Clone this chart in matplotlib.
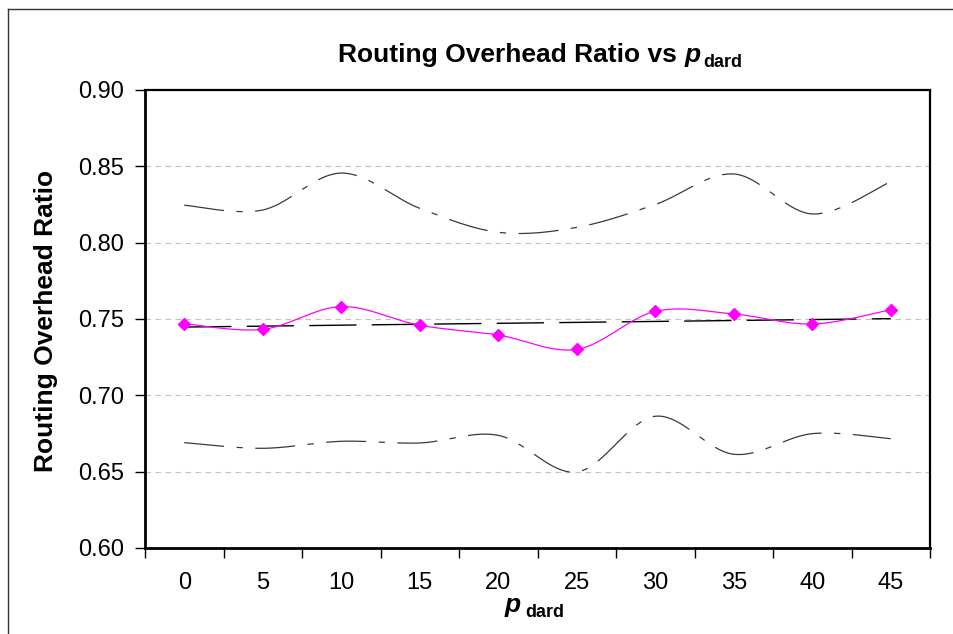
import numpy as np
import matplotlib
matplotlib.use("Agg")
import matplotlib.pyplot as plt
from matplotlib.lines import Line2D
from matplotlib.ticker import FixedLocator, FormatStrFormatter, NullFormatter


categories = ["0", "5", "10", "15", "20", "25", "30", "35", "40", "45"]
ratio_mean = [0.7469, 0.7432, 0.7581, 0.7459, 0.7395, 0.7301, 0.7550, 0.7533, 0.7467, 0.7561]
ratio_upper = [0.8245, 0.8214, 0.8456, 0.8225, 0.8068, 0.8100, 0.8250, 0.8450, 0.8188, 0.8400]
ratio_lower = [0.6690, 0.6653, 0.6699, 0.6688, 0.6738, 0.6498, 0.6863, 0.6614, 0.6749, 0.6716]
y_ticks = [0.60, 0.65, 0.70, 0.75, 0.80, 0.85, 0.90]

W, H = 954, 634
FONT = "Liberation Sans"
plt.rcParams["font.family"] = [FONT, "DejaVu Sans"]


def smooth(values, n=40):
    # Excel-style smoothed line: cubic Bezier through the points (Catmull-Rom)
    pts = np.column_stack([np.arange(len(values), dtype=float), np.asarray(values, float)])
    padded = np.vstack([pts[0], pts, pts[-1]])
    t = np.linspace(0, 1, n)[:, None]
    out = []
    for i in range(len(pts) - 1):
        p0, p1, p2, p3 = padded[i], padded[i + 1], padded[i + 2], padded[i + 3]
        c1 = p1 + (p2 - p0) / 6
        c2 = p2 - (p3 - p1) / 6
        seg = (1 - t) ** 3 * p1 + 3 * (1 - t) ** 2 * t * c1 + 3 * (1 - t) * t ** 2 * c2 + t ** 3 * p2
        out.append(seg if i == 0 else seg[1:])
    return np.vstack(out)


fig = plt.figure(figsize=(W / 100, H / 100), dpi=100)
ax = fig.add_axes([145 / W, 1 - 548 / H, (930 - 145) / W, (548 - 90) / H])

x = np.arange(len(categories))

up = smooth(ratio_upper)
ax.plot(up[:, 0], up[:, 1], color="#3a3a3a", lw=0.9, linestyle=(0, (32, 10, 5, 10)))
lo = smooth(ratio_lower)
ax.plot(lo[:, 0], lo[:, 1], color="#3a3a3a", lw=0.9, linestyle=(0, (32, 10, 5, 10)))

# linear trend of the mean series
coef = np.polyfit(x, ratio_mean, 1)
ax.plot(x, np.polyval(coef, x), color="black", lw=1.0, linestyle=(0, (34, 11)))

mid = smooth(ratio_mean)
ax.plot(mid[:, 0], mid[:, 1], color="#FF00FF", lw=0.9)
ax.plot(x, ratio_mean, linestyle="none", marker="D", markersize=6.5, color="#FF00FF")

ax.set_xlim(-0.5, len(categories) - 0.5)
ax.set_ylim(0.60, 0.90)
ax.xaxis.set_major_locator(FixedLocator(np.arange(len(categories) + 1) - 0.5))
ax.xaxis.set_major_formatter(NullFormatter())
ax.xaxis.set_minor_locator(FixedLocator(x))
ax.set_xticks(x, categories, minor=True)
ax.tick_params(axis="x", which="major", direction="out", length=7, width=1.0, color="black")
ax.tick_params(axis="x", which="minor", length=0, pad=17, labelsize=17)
ax.set_yticks(y_ticks)
ax.yaxis.set_major_formatter(FormatStrFormatter("%.2f"))
ax.tick_params(axis="y", direction="out", length=7, width=1.0, pad=8, labelsize=17)
ax.grid(axis="y", color="#c0c0c0", lw=0.8, linestyle=(0, (5, 4)))
ax.set_axisbelow(True)
for side in ["left", "bottom"]:
    ax.spines[side].set_linewidth(2.0)
for side in ["top", "right"]:
    ax.spines[side].set_linewidth(1.6)

# outer chart frame (right and bottom edges fall outside the image)
fig.add_artist(Line2D([8 / W, 8 / W], [0, 1 - 9 / H], transform=fig.transFigure, color="#333333", lw=1.0))
fig.add_artist(Line2D([8 / W, 1], [1 - 9 / H, 1 - 9 / H], transform=fig.transFigure, color="#333333", lw=1.0))

fig.text(46 / W, 1 - 321 / H, "Routing Overhead Ratio", rotation=90, ha="center", va="center",
         fontsize=19, fontweight="bold")


def chain(pieces, x0, y0):
    # place text pieces side by side starting at pixel x0, baseline y0 (from top)
    renderer = fig.canvas.get_renderer()
    xpos = x0
    for txt, size, style, dy, gap in pieces:
        t = fig.text((xpos + gap) / W, 1 - (y0 + dy) / H, txt, fontsize=size, fontweight="bold",
                     fontstyle=style, ha="left", va="baseline")
        bb = t.get_window_extent(renderer)
        xpos = bb.x1


chain([("Routing Overhead Ratio vs ", 19, "normal", 0, 0),
       ("p", 19, "italic", 0, 0),
       ("dard", 13, "normal", 5, 3)], 338, 62)
chain([("p", 19, "italic", 0, 0),
       ("dard", 13, "normal", 5, 4)], 505, 612)

fig.savefig("out.png", dpi=100)
